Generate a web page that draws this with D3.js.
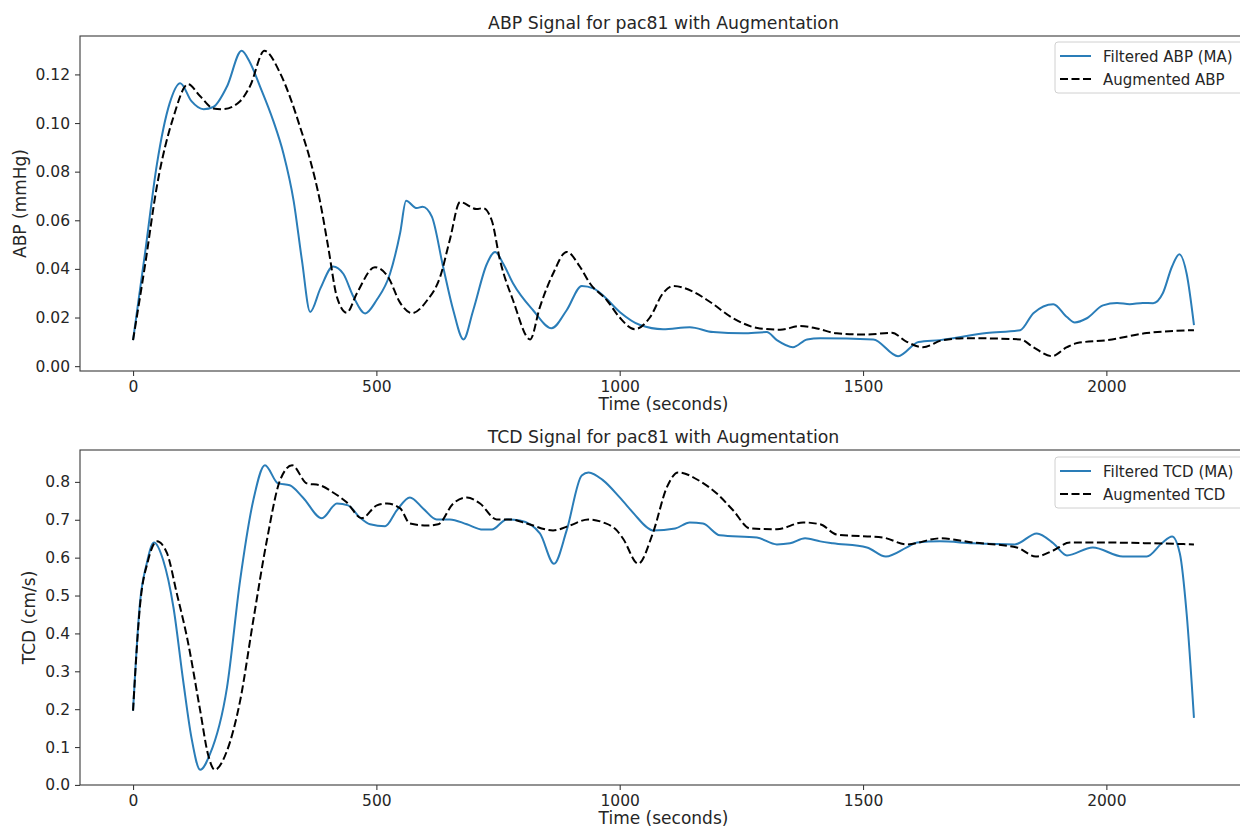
<!DOCTYPE html>
<html>
<head>
<meta charset="utf-8">
<script src="https://cdn.jsdelivr.net/npm/d3@7"></script>
<style>
  html, body { margin: 0; padding: 0; background: #fff; }
  svg { display: block; font-family: "DejaVu Sans", sans-serif; }
</style>
</head>
<body>
<svg id="fig" width="1240" height="830"></svg>
<script>
// Time (s) / value pairs for each trace.
const abpFiltered = [[0,0.0107],[25,0.047],[49,0.083],[75,0.108],[97,0.1164],[120,0.109],[145,0.1057],[165,0.1066],[193,0.115],[223,0.1297],[240,0.125],[261,0.115],[288,0.101],[309,0.0875],[330,0.068],[347,0.0436],[364,0.0223],[385,0.032],[411,0.041],[432,0.038],[453,0.0285],[477,0.0217],[500,0.027],[528,0.038],[549,0.055],[561,0.068],[583,0.065],[595,0.0656],[614,0.0615],[637,0.041],[658,0.023],[679,0.011],[699,0.023],[727,0.042],[744,0.047],[761,0.042],[781,0.034],[822,0.023],[860,0.0156],[891,0.023],[922,0.033],[946,0.032],[966,0.029],[1000,0.0223],[1042,0.0169],[1089,0.0152],[1144,0.016],[1192,0.014],[1254,0.0135],[1302,0.014],[1323,0.0107],[1356,0.0078],[1385,0.011],[1412,0.0115],[1521,0.011],[1572,0.0041],[1614,0.0099],[1658,0.0107],[1754,0.0136],[1823,0.0148],[1850,0.0218],[1891,0.0255],[1919,0.0202],[1935,0.018],[1960,0.0197],[1993,0.025],[2022,0.026],[2048,0.0255],[2075,0.026],[2096,0.0259],[2116,0.030],[2135,0.041],[2150,0.046],[2165,0.038],[2180,0.0169]];
const abpAugmented = [[0,0.0107],[25,0.042],[49,0.074],[83,0.1025],[113,0.116],[138,0.111],[165,0.106],[185,0.1057],[220,0.109],[240,0.115],[270,0.1297],[302,0.1206],[322,0.111],[343,0.0985],[364,0.0848],[384,0.068],[401,0.049],[419,0.0284],[439,0.022],[460,0.030],[497,0.0407],[524,0.0367],[549,0.026],[573,0.0218],[604,0.027],[631,0.0367],[651,0.052],[672,0.0675],[706,0.0646],[719,0.065],[737,0.060],[754,0.0436],[781,0.027],[816,0.011],[836,0.0243],[863,0.038],[891,0.047],[918,0.041],[939,0.034],[974,0.027],[1000,0.020],[1031,0.0152],[1062,0.020],[1089,0.030],[1110,0.033],[1151,0.0306],[1185,0.0265],[1233,0.0197],[1288,0.0155],[1330,0.015],[1371,0.0165],[1405,0.0155],[1446,0.0135],[1508,0.013],[1559,0.0137],[1590,0.010],[1623,0.0078],[1664,0.0107],[1713,0.0115],[1823,0.011],[1850,0.0078],[1888,0.0041],[1919,0.0078],[1940,0.0095],[2001,0.0107],[2083,0.0136],[2180,0.0148]];
const tcdFiltered = [[0,0.196],[14,0.478],[28,0.584],[43,0.640],[62,0.593],[83,0.469],[103,0.275],[120,0.125],[138,0.040],[158,0.081],[193,0.257],[220,0.54],[247,0.751],[271,0.844],[298,0.796],[322,0.791],[349,0.759],[388,0.704],[419,0.743],[442,0.738],[466,0.706],[487,0.688],[518,0.683],[542,0.725],[569,0.759],[596,0.730],[624,0.701],[651,0.701],[686,0.688],[719,0.674],[737,0.674],[768,0.701],[795,0.698],[836,0.664],[865,0.584],[891,0.672],[922,0.817],[936,0.825],[966,0.804],[1000,0.759],[1030,0.715],[1056,0.680],[1068,0.672],[1114,0.677],[1144,0.693],[1171,0.690],[1206,0.659],[1282,0.653],[1323,0.635],[1350,0.638],[1381,0.651],[1412,0.643],[1438,0.638],[1508,0.627],[1547,0.603],[1590,0.627],[1611,0.640],[1658,0.643],[1726,0.638],[1812,0.635],[1857,0.664],[1891,0.638],[1919,0.606],[1972,0.627],[2034,0.603],[2083,0.603],[2114,0.638],[2135,0.656],[2151,0.611],[2165,0.452],[2180,0.177]];
const tcdAugmented = [[0,0.196],[14,0.469],[31,0.593],[49,0.643],[70,0.611],[90,0.505],[111,0.389],[138,0.196],[154,0.081],[168,0.040],[193,0.090],[220,0.222],[247,0.434],[275,0.646],[302,0.804],[327,0.844],[357,0.796],[384,0.791],[411,0.772],[439,0.746],[470,0.704],[501,0.738],[522,0.743],[549,0.730],[569,0.690],[604,0.685],[627,0.688],[658,0.743],[686,0.759],[713,0.743],[747,0.701],[775,0.701],[809,0.690],[863,0.672],[898,0.685],[935,0.701],[966,0.693],[994,0.672],[1007,0.650],[1038,0.584],[1068,0.664],[1097,0.786],[1120,0.825],[1165,0.802],[1199,0.770],[1233,0.725],[1268,0.677],[1323,0.675],[1377,0.693],[1412,0.688],[1446,0.661],[1541,0.653],[1590,0.635],[1658,0.651],[1726,0.640],[1816,0.627],[1855,0.603],[1891,0.619],[1925,0.640],[1987,0.640],[2090,0.638],[2180,0.635]];

const timeTicks = [0, 500, 1000, 1500, 2000];
const abpTicks = [0.00, 0.02, 0.04, 0.06, 0.08, 0.10, 0.12];
const tcdTicks = [0.0, 0.1, 0.2, 0.3, 0.4, 0.5, 0.6, 0.7, 0.8];

const panels = [
  {
    title: "ABP Signal for pac81 with Augmentation",
    ylabel: "ABP (mmHg)",
    filtered: abpFiltered, augmented: abpAugmented,
    legend: ["Filtered ABP (MA)", "Augmented ABP"],
    yTicks: abpTicks, yFmt: d3.format(".2f"),
    yDomain: [-0.002, 0.1358],
    top: 36, bottom: 371, ylabelX: 26, legendTop: 42
  },
  {
    title: "TCD Signal for pac81 with Augmentation",
    ylabel: "TCD (cm/s)",
    filtered: tcdFiltered, augmented: tcdAugmented,
    legend: ["Filtered TCD (MA)", "Augmented TCD"],
    yTicks: tcdTicks, yFmt: d3.format(".1f"),
    yDomain: [-0.0002, 0.8842],
    top: 450, bottom: 785, ylabelX: 35, legendTop: 457
  }
];

const left = 80, right = 1247;
const blue = "#2a7db8";
const spine = "#3a3a3a";
const textCol = "#262626";

const svg = d3.select("#fig");
const x = d3.scaleLinear().domain([-109, 2289]).range([left, right]);

panels.forEach((p, i) => {
  const y = d3.scaleLinear().domain(p.yDomain).range([p.bottom, p.top]);
  const g = svg.append("g");

  const clipId = "clip" + i;
  svg.append("clipPath").attr("id", clipId)
    .append("rect").attr("x", left).attr("y", p.top)
    .attr("width", right - left).attr("height", p.bottom - p.top);

  const line = d3.line()
    .x(d => x(d[0])).y(d => y(d[1]))
    .curve(d3.curveMonotoneX);

  g.append("path").datum(p.filtered)
    .attr("clip-path", `url(#${clipId})`)
    .attr("fill", "none").attr("stroke", blue)
    .attr("stroke-width", 2).attr("stroke-linejoin", "round")
    .attr("d", line);

  g.append("path").datum(p.augmented)
    .attr("clip-path", `url(#${clipId})`)
    .attr("fill", "none").attr("stroke", "#000")
    .attr("stroke-width", 2).attr("stroke-dasharray", "8,3.5")
    .attr("d", line);

  // Axes
  const xAxis = d3.axisBottom(x).tickValues(timeTicks).tickFormat(d3.format("d"))
    .tickSizeInner(5).tickSizeOuter(0).tickPadding(5);
  const gx = g.append("g").attr("transform", `translate(0,${p.bottom})`).call(xAxis);
  const yAxis = d3.axisLeft(y).tickValues(p.yTicks).tickFormat(p.yFmt)
    .tickSizeInner(5).tickSizeOuter(0).tickPadding(5);
  const gy = g.append("g").attr("transform", `translate(${left},0)`).call(yAxis);

  [gx, gy].forEach(a => {
    a.select(".domain").remove();
    a.selectAll(".tick line").attr("stroke", spine).attr("stroke-width", 1.1);
    a.selectAll(".tick text").attr("fill", textCol)
      .style("font-size", "15.5px").style("font-family", "DejaVu Sans, sans-serif");
  });

  // Frame
  g.append("rect")
    .attr("x", left).attr("y", p.top)
    .attr("width", right - left).attr("height", p.bottom - p.top)
    .attr("fill", "none").attr("stroke", spine).attr("stroke-width", 1.1);

  // Titles and labels
  g.append("text")
    .attr("x", (left + right) / 2).attr("y", p.top - 7)
    .attr("text-anchor", "middle").attr("fill", textCol)
    .style("font-size", "17.3px").text(p.title);

  g.append("text")
    .attr("x", (left + right) / 2).attr("y", p.bottom + 39)
    .attr("text-anchor", "middle").attr("fill", textCol)
    .style("font-size", "17px").text("Time (seconds)");

  g.append("text")
    .attr("transform", `translate(${p.ylabelX},${(p.top + p.bottom) / 2}) rotate(-90)`)
    .attr("text-anchor", "middle").attr("fill", textCol)
    .style("font-size", "17px").text(p.ylabel);

  // Legend
  const lg = g.append("g").attr("transform", `translate(1055,${p.legendTop})`);
  lg.append("rect").attr("x", 0).attr("y", 0)
    .attr("width", 190).attr("height", 51).attr("rx", 3)
    .attr("fill", "#fff").attr("fill-opacity", 0.8)
    .attr("stroke", "#d0d0d0").attr("stroke-width", 1);
  const rows = [
    { label: p.legend[0], color: blue, dash: null },
    { label: p.legend[1], color: "#000", dash: "8,3.5" }
  ];
  rows.forEach((r, k) => {
    const yy = 14 + k * 23;
    lg.append("line").attr("x1", 5).attr("x2", 36).attr("y1", yy).attr("y2", yy)
      .attr("stroke", r.color).attr("stroke-width", 2)
      .attr("stroke-dasharray", r.dash);
    lg.append("text").attr("x", 48).attr("y", yy + 5.5)
      .attr("fill", textCol).style("font-size", "15px").text(r.label);
  });
});
</script>
</body>
</html>
